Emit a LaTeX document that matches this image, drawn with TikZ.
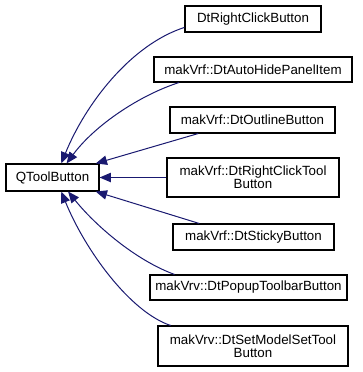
\documentclass[tikz,border=0pt]{standalone}
\usepackage{fontspec}
\setmainfont{Liberation Sans}
\usetikzlibrary{arrows.meta}
\definecolor{edgeblue}{HTML}{191970}
\tikzset{
  cls/.style={draw=black, line width=0.8pt, fill=white, inner sep=0pt, align=center,
    font=\fontsize{10}{9.5}\selectfont},
  inh/.style={draw=edgeblue, line width=0.75pt, -{Triangle[length=8.5pt,width=7pt]}, fill=none}
}
\begin{document}
\begin{tikzpicture}[x=0.75pt,y=-0.75pt]
\useasboundingbox (0,0) rectangle (363,372);
\node[cls, minimum width=102pt, minimum height=19.5pt] (rcb) at (253,19) {DtRightClickButton};
\node[cls, minimum width=148.5pt, minimum height=18.75pt] (ah) at (253,69.5) {makVrf::DtAutoHidePanelItem};
\node[cls, minimum width=123.75pt, minimum height=19.5pt] (ol) at (252.5,120) {makVrf::DtOutlineButton};
\node[cls, minimum width=129pt, minimum height=29.25pt] (rct) at (253,177.5) {makVrf::DtRightClickTool\\Button};
\node[cls, minimum width=69.75pt, minimum height=20.25pt] (qt) at (52.5,177.5) {QToolButton};
\node[cls, minimum width=120.75pt, minimum height=19.5pt] (st) at (253.5,237) {makVrf::DtStickyButton};
\node[cls, minimum width=147.75pt, minimum height=18.75pt] (pp) at (248.5,287.5) {makVrv::DtPopupToolbarButton};
\node[cls, minimum width=142.5pt, minimum height=30pt] (sm) at (253,346) {makVrv::DtSetModelSetTool\\Button};

\draw[inh] (rcb.187) .. controls (130,45) and (85,105) .. (qt.58);
\draw[inh] (ah.190) .. controls (140,95) and (95,125) .. (qt.45);
\draw[inh] (ol.194) -- (qt.18);
\draw[inh] (rct.west) -- (qt.east);
\draw[inh] (st.166) -- (qt.-18);
\draw[inh] (pp.170) .. controls (135,260) and (95,225) .. (qt.-42);
\draw[inh] (sm.166) .. controls (130,312) and (85,250) .. (qt.-58);
\end{tikzpicture}
\end{document}
